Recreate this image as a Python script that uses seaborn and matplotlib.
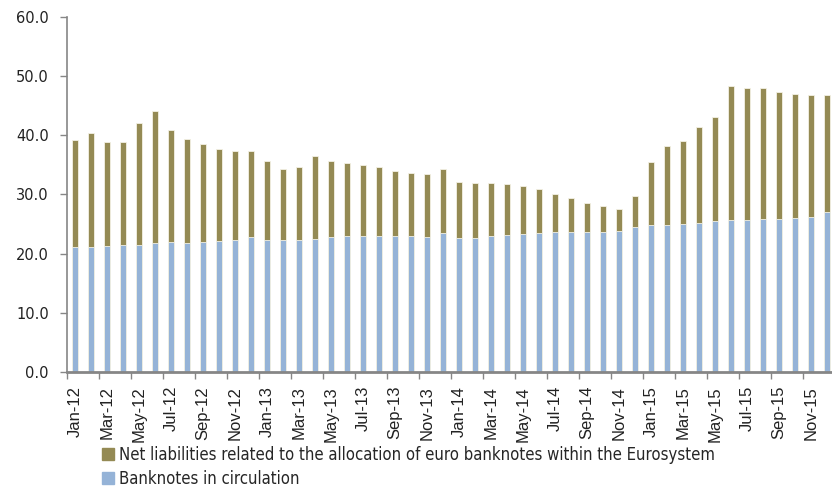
import matplotlib
matplotlib.use("Agg")
import matplotlib.pyplot as plt
import matplotlib.patches as mpatches
from matplotlib import font_manager
import seaborn as sns
import pandas as pd
import numpy as np

years = ["12", "13", "14", "15"]
month_names = ["Jan", "Feb", "Mar", "Apr", "May", "Jun", "Jul", "Aug", "Sep", "Oct", "Nov", "Dec"]
months = [f"{m}-{y}" for y in years for m in month_names]

banknotes = [21.1, 21.1, 21.2, 21.5, 21.5, 21.8, 22.0, 21.8, 22.0, 22.2, 22.3, 22.8,
             22.3, 22.3, 22.3, 22.4, 22.8, 22.9, 23.0, 23.0, 22.9, 22.9, 22.8, 23.5,
             22.6, 22.6, 23.0, 23.1, 23.3, 23.4, 23.6, 23.6, 23.6, 23.7, 23.8, 24.5,
             24.8, 24.8, 25.0, 25.2, 25.5, 25.6, 25.7, 25.8, 25.8, 26.0, 26.1, 27.0]
total = [39.2, 40.4, 38.8, 38.8, 42.1, 44.1, 40.9, 39.4, 38.5, 37.7, 37.3, 37.3,
         35.6, 34.3, 34.7, 36.5, 35.6, 35.3, 34.9, 34.6, 33.9, 33.6, 33.5, 34.2,
         32.1, 31.9, 32.0, 31.8, 31.4, 30.9, 30.1, 29.3, 28.5, 28.0, 27.6, 29.7,
         35.5, 38.2, 39.0, 41.4, 43.1, 48.3, 47.9, 48.0, 47.2, 46.9, 46.7, 46.7]
net_liab = [round(t - b, 1) for t, b in zip(total, banknotes)]

label_net = "Net liabilities related to the allocation of euro banknotes within the Eurosystem"
label_bank = "Banknotes in circulation"
c_net = "#948A54"
c_bank = "#95B3D7"

df = pd.DataFrame({"month": months, "banknotes": banknotes,
                   "total": [b + n for b, n in zip(banknotes, net_liab)]})

sns.set_style("white")

# condensed font if available
cond_file = None
for f in font_manager.findSystemFonts():
    low = f.lower()
    if "liberationsansnarrow-regular" in low or "liberationsans-narrow" in low.replace("_", "-"):
        cond_file = f
        break
if cond_file is None:
    for f in font_manager.findSystemFonts():
        if "dejavusanscondensed.ttf" in f.lower():
            cond_file = f
            break
if cond_file is not None:
    narrow_prop = lambda size: font_manager.FontProperties(fname=cond_file, size=size)
else:
    narrow_prop = lambda size: font_manager.FontProperties(family="DejaVu Sans", stretch="condensed", size=size)

fig = plt.figure(figsize=(8.32, 4.88), dpi=100)
ax = fig.add_axes([0.0805, 0.2377, 0.923, 0.7281])

sns.barplot(data=df, x="month", y="total", color=c_net, width=0.4, saturation=1,
            edgecolor="#F3F1E4", linewidth=0.6, ax=ax)
sns.barplot(data=df, x="month", y="banknotes", color=c_bank, width=0.4, saturation=1,
            edgecolor="#F3F1E4", linewidth=0.6, ax=ax)

ax.set_xlim(-0.5, len(months) - 0.5)
ax.set_ylim(0, 60)
ax.set_yticks(np.arange(0, 61, 10))
ax.set_yticklabels([f"{v:.1f}" for v in np.arange(0, 61, 10)], fontsize=10.5, color="#222222")
ax.set_xlabel("")
ax.set_ylabel("")

pos = np.arange(len(months))
ax.set_xticks(pos[::2])
ax.set_xticklabels(months[::2], rotation=90, color="#222222",
                   family=["Liberation Sans", "DejaVu Sans"], fontsize=12)
ax.set_xticks(np.arange(-0.5, len(months), 2), minor=True)
ax.tick_params(axis="x", which="major", length=0, pad=10)
ax.tick_params(axis="x", which="minor", length=5, width=1, color="#868686", direction="out", bottom=True)
ax.tick_params(axis="y", which="major", length=5, width=1, color="#868686", direction="out", left=True, pad=8)

for s in ["top", "right"]:
    ax.spines[s].set_visible(False)
ax.spines["left"].set_color("#868686")
ax.spines["left"].set_linewidth(1.2)
ax.spines["bottom"].set_color("#868686")
ax.spines["bottom"].set_linewidth(2)

handles = [mpatches.Patch(color=c_net, label=label_net),
           mpatches.Patch(color=c_bank, label=label_bank)]
fig.legend(handles=handles, loc="upper left", bbox_to_anchor=(0.122, 0.086),
           frameon=False, handlelength=0.75, handleheight=0.75, handletextpad=0.3,
           labelspacing=0.35, borderaxespad=0, borderpad=0,
           prop=narrow_prop(12))

fig.savefig("out.png", dpi=100)
